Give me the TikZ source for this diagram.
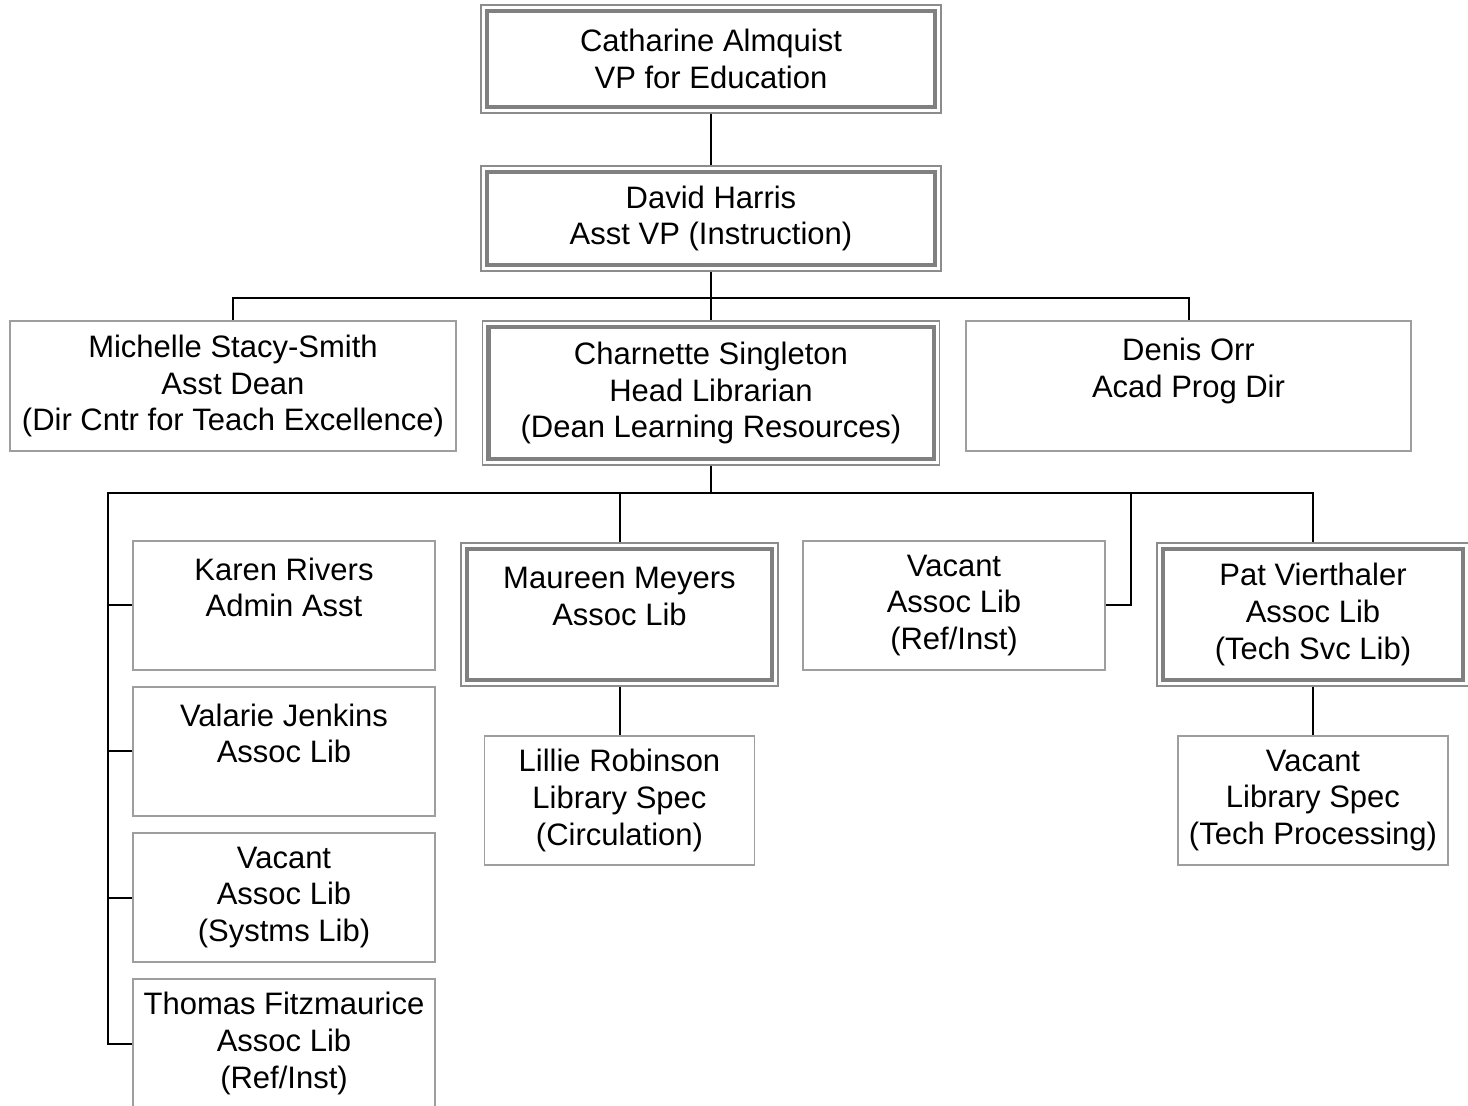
\documentclass[tikz,border=0pt]{standalone}
\usepackage{fontspec}
\setmainfont{Liberation Sans}
\usepackage{tikz}
\usetikzlibrary{calc, positioning}

\tikzset{
  sbox/.style={draw=black!38, line width=0.7pt, align=center, inner sep=0pt,
    font=\fontsize{15.5}{18.3}\selectfont},
  dbox/.style={sbox, draw=black!45,
    path picture={\draw[black!50, line width=2.2pt]
      ([shift={(2.9pt,-2.9pt)}]path picture bounding box.north west) rectangle
      ([shift={(-2.9pt,2.9pt)}]path picture bounding box.south east);}},
  link/.style={draw=black, line width=1pt},
}

\begin{document}
\begin{tikzpicture}[x=0.5pt, y=-0.5pt]
  \useasboundingbox (0,0) rectangle (1468,1106);

  % Top of the chart
  \node[dbox, minimum width=230pt, minimum height=54pt] (vp) at (711,59)
    {Catharine Almquist\\VP for Education};
  \node[dbox, minimum width=230pt, minimum height=52.5pt] (dh) at (711,218.5)
    {David Harris\\Asst VP (Instruction)};

  % Second level
  \node[sbox, minimum width=223pt, minimum height=65pt] (ms) at (233,386)
    {Michelle Stacy-Smith\\Asst Dean\\(Dir Cntr for Teach Excellence)};
  \node[dbox, minimum width=228.5pt, minimum height=72pt] (cs) at (711,393)
    {Charnette Singleton\\Head Librarian\\(Dean Learning Resources)};
  \node[sbox, minimum width=222.5pt, minimum height=65pt] (do) at (1188.5,386)
    {Denis Orr\\Acad Prog Dir\\\mbox{}};

  % Library staff
  \node[sbox, minimum width=151pt, minimum height=64.5pt] (kr) at (284,605.5)
    {Karen Rivers\\Admin Asst\\\mbox{}};
  \node[sbox, minimum width=151pt, minimum height=64.5pt] (vj) at (284,751.5)
    {Valarie Jenkins\\Assoc Lib\\\mbox{}};
  \node[sbox, minimum width=151pt, minimum height=64.5pt] (vs) at (284,897.5)
    {Vacant\\Assoc Lib\\(Systms Lib)};
  \node[sbox, minimum width=151pt, minimum height=64.5pt] (tf) at (284,1043.5)
    {Thomas Fitzmaurice\\Assoc Lib\\(Ref/Inst)};
  \node[dbox, minimum width=158.5pt, minimum height=71.5pt] (mm) at (619.5,614.5)
    {Maureen Meyers\\Assoc Lib\\\mbox{}};
  \node[sbox, minimum width=151pt, minimum height=64.5pt] (vr) at (954,605.5)
    {Vacant\\Assoc Lib\\(Ref/Inst)};
  \node[dbox, minimum width=156pt, minimum height=71.5pt] (pv) at (1313,614.5)
    {Pat Vierthaler\\Assoc Lib\\(Tech Svc Lib)};
  \node[sbox, minimum width=135pt, minimum height=64.5pt] (lr) at (619.5,800.5)
    {Lillie Robinson\\Library Spec\\(Circulation)};
  \node[sbox, minimum width=135pt, minimum height=64.5pt] (vt) at (1313,800.5)
    {Vacant\\Library Spec\\(Tech Processing)};

  % Connectors
  \draw[link] (vp) -- (dh);
  \draw[link] (dh.south) -- ++(0,26) coordinate (b1);
  \draw[link] (ms.north) |- (b1) -| (do.north);
  \draw[link] (b1) -- (cs.north);
  \draw[link] (cs.south) -- ++(0,27) coordinate (b2);
  \draw[link] (tf.west) -- ++(-24,0) |- (b2) -| (pv.north);
  \draw[link] (kr.west) -- ++(-24,0);
  \draw[link] (vj.west) -- ++(-24,0);
  \draw[link] (vs.west) -- ++(-24,0);
  \draw[link] (b2) -| (mm.north);
  \draw[link] (vr.east) -- ++(25,0) |- (b2);
  \draw[link] (mm) -- (lr);
  \draw[link] (pv) -- (vt);
\end{tikzpicture}
\end{document}
